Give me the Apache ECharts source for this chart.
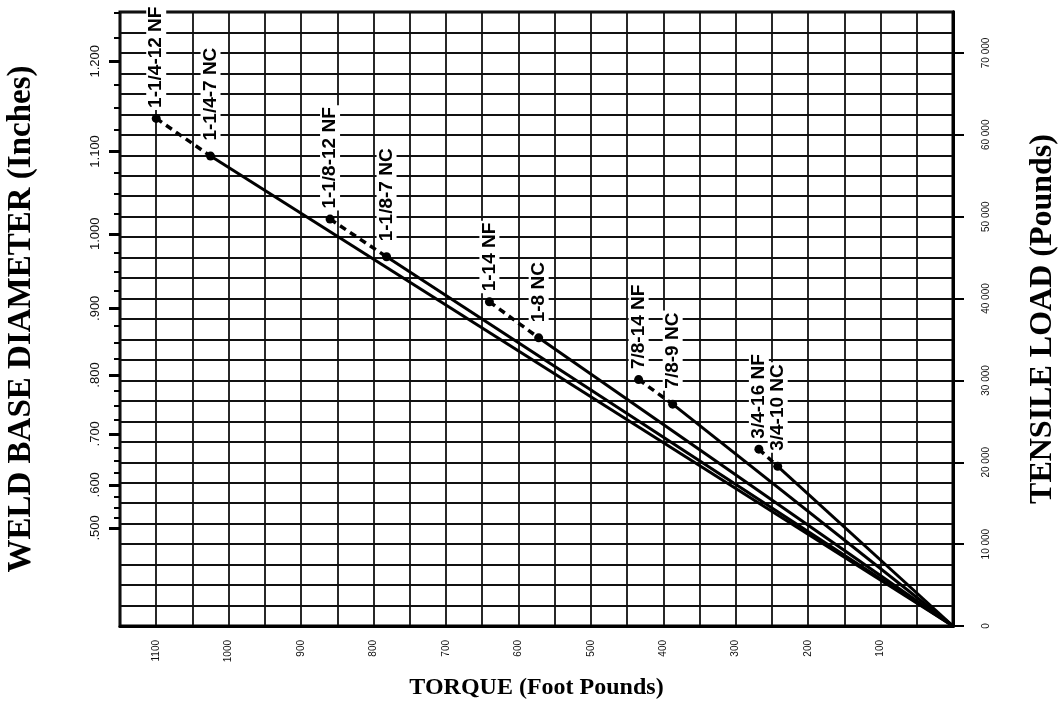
<!DOCTYPE html>
<html>
<head>
<meta charset="utf-8">
<title>Weld base diameter, torque and tensile load</title>
<script src="https://cdn.jsdelivr.net/npm/echarts@6/dist/echarts.min.js"></script>
<style>
  html, body { margin: 0; padding: 0; background: #fff; }
  #chart { width: 1062px; height: 711px; }
</style>
</head>
<body>
<div id="chart"></div>
<script>
// Bottom axis: torque in foot pounds (labelled every 100)
const torqueTicks = [100, 200, 300, 400, 500, 600, 700, 800, 900, 1000, 1100];
// Right axis: tensile load in pounds
const loadTicks = [0, 10000, 20000, 30000, 40000, 50000, 60000, 70000];
// Left axis: weld base diameter in inches
const diameterTicks = [0.5, 0.6, 0.7, 0.8, 0.9, 1.0, 1.1, 1.2];
const diameterLabels = ['.500', '.600', '.700', '.800', '.900', '1.000', '1.100', '1.200'];
const diameterMinorTicks = [0.525, 0.55, 0.575, 0.625, 0.65, 0.675, 0.725, 0.75, 0.775,
  0.825, 0.85, 0.875, 0.925, 0.95, 0.975, 1.025, 1.05, 1.075, 1.125, 1.15, 1.175, 1.225, 1.25];
// Weld metal tensile strength used to relate diameter to load (psi)
const weldStressPsi = 61000;

// Fine-thread studs (dashed lead-in to the coarse thread point)
const nfNames = ['1-1/4-12 NF', '1-1/8-12 NF', '1-14 NF', '7/8-14 NF', '3/4-16 NF'];
const nfTorque = [1100, 860, 640, 434, 268];
const nfLoad = [62000, 49700, 39600, 30100, 21600];

// Coarse-thread studs (solid line back to zero)
const ncNames = ['1-1/4-7 NC', '1-1/8-7 NC', '1-8 NC', '7/8-9 NC', '3/4-10 NC'];
const ncTorque = [1025, 782, 572, 387, 242];
const ncLoad = [57400, 45100, 35200, 27100, 19500];

function loadFromDiameter(d) {
  return weldStressPsi * Math.PI / 4 * d * d;
}

const INK = '#000';
const GRID_INK = '#111';
const LOAD_MAX = 75000;

const series = [];

// Solid lines from the origin out to each coarse-thread point
ncTorque.forEach(function (t, i) {
  series.push({
    type: 'line',
    xAxisIndex: 0, yAxisIndex: 0,
    data: [[0, 0], [t, ncLoad[i]]],
    symbol: 'none',
    silent: true,
    lineStyle: { color: INK, width: 3 },
    z: 3
  });
});

// Dashed link from each fine-thread point to its coarse-thread partner
nfTorque.forEach(function (t, i) {
  series.push({
    type: 'line',
    xAxisIndex: 0, yAxisIndex: 0,
    data: [[t, nfLoad[i]], [ncTorque[i], ncLoad[i]]],
    symbol: 'none',
    silent: true,
    lineStyle: { color: INK, width: 3.5, type: [7, 5] },
    z: 3
  });
});

function pointSeries(names, torque, load, distance) {
  return {
    type: 'scatter',
    xAxisIndex: 0, yAxisIndex: 0,
    symbol: 'circle',
    symbolSize: 9,
    itemStyle: { color: INK, opacity: 1 },
    z: 5,
    data: names.map(function (n, i) { return { name: n, value: [torque[i], load[i]] }; }),
    label: {
      show: true,
      position: 'top',
      distance: distance,
      rotate: 90,
      align: 'left',
      verticalAlign: 'middle',
      formatter: '{b}',
      fontFamily: '"Liberation Sans", Arial, sans-serif',
      fontSize: 19,
      fontWeight: 'bold',
      color: '#000',
      opacity: 1,
      textBorderWidth: 0,
      backgroundColor: '#fff',
      padding: [1, 2, 0, 2]
    }
  };
}
series.push(pointSeries(nfNames, nfTorque, nfLoad, 4));
series.push(pointSeries(ncNames, ncTorque, ncLoad, 9));

const tickFont = { fontFamily: '"Liberation Sans", Arial, sans-serif', color: '#111' };
const titleFont = { fontFamily: '"Liberation Serif", "Times New Roman", serif', fontWeight: 'bold', color: '#000' };

const option = {
  backgroundColor: '#fff',
  animation: false,
  grid: {
    left: 120, right: 109, top: 12, bottom: 85,
    outerBoundsMode: 'none',
    containLabel: false,
    show: true, borderColor: '#000', borderWidth: 3, backgroundColor: 'transparent'
  },
  xAxis: [{
    type: 'value',
    inverse: true,
    min: 0, max: 1150, interval: 50,
    axisLine: { show: true, lineStyle: { color: '#000', width: 3 } },
    axisTick: { show: false },
    splitLine: { show: true, lineStyle: { color: GRID_INK, width: 1.8 } },
    axisLabel: {
      customValues: torqueTicks,
      rotate: 90,
      margin: 14,
      fontSize: 10,
      ...tickFont,
      formatter: function (v) { return String(v); }
    },
    name: 'TORQUE (Foot Pounds)',
    nameLocation: 'middle',
    nameGap: 50,
    nameTextStyle: { fontSize: 24, ...titleFont }
  }],
  yAxis: [
    { // load scale that carries the chart grid
      type: 'value', position: 'left',
      min: 0, max: LOAD_MAX, interval: 2500,
      axisLine: { show: true, lineStyle: { color: '#000', width: 3 } },
      axisTick: { show: false },
      axisLabel: { show: false },
      splitLine: { show: true, lineStyle: { color: GRID_INK, width: 1.8 } }
    },
    { // weld base diameter, major ticks and labels
      type: 'value', position: 'left',
      min: 0, max: LOAD_MAX,
      axisLine: { show: false },
      splitLine: { show: false },
      axisTick: {
        show: true,
        customValues: diameterTicks.map(loadFromDiameter),
        length: 11,
        lineStyle: { color: '#000', width: 3 }
      },
      axisLabel: {
        customValues: diameterTicks.map(loadFromDiameter),
        rotate: 90,
        margin: 18,
        fontSize: 13,
        ...tickFont,
        formatter: function (v) {
          for (let i = 0; i < diameterTicks.length; i++) {
            if (Math.abs(loadFromDiameter(diameterTicks[i]) - v) < 1) return diameterLabels[i];
          }
          return '';
        }
      },
      name: 'WELD BASE DIAMETER (Inches)',
      nameLocation: 'middle',
      nameGap: 82,
      nameTextStyle: { fontSize: 33, ...titleFont }
    },
    { // weld base diameter, minor ticks
      type: 'value', position: 'left',
      min: 0, max: LOAD_MAX,
      axisLine: { show: false },
      splitLine: { show: false },
      axisLabel: { show: false },
      axisTick: {
        show: true,
        customValues: diameterMinorTicks.map(loadFromDiameter),
        length: 6,
        lineStyle: { color: '#000', width: 2 }
      }
    },
    { // tensile load
      type: 'value', position: 'right',
      min: 0, max: LOAD_MAX,
      axisLine: { show: true, lineStyle: { color: '#000', width: 3 } },
      splitLine: { show: false },
      axisTick: {
        show: true,
        customValues: loadTicks,
        length: 11,
        lineStyle: { color: '#000', width: 2 }
      },
      axisLabel: {
        customValues: loadTicks,
        rotate: 90,
        margin: 28,
        fontSize: 10,
        ...tickFont,
        formatter: function (v) { return v === 0 ? '0' : (v / 1000) + ' 000'; }
      },
      name: 'TENSILE LOAD (Pounds)',
      nameLocation: 'middle',
      nameGap: 74,
      nameTextStyle: { fontSize: 32, ...titleFont }
    }
  ],
  series: series
};

const chart = echarts.init(document.getElementById('chart'), null, { renderer: 'canvas' });
chart.setOption(option);
</script>
</body>
</html>
